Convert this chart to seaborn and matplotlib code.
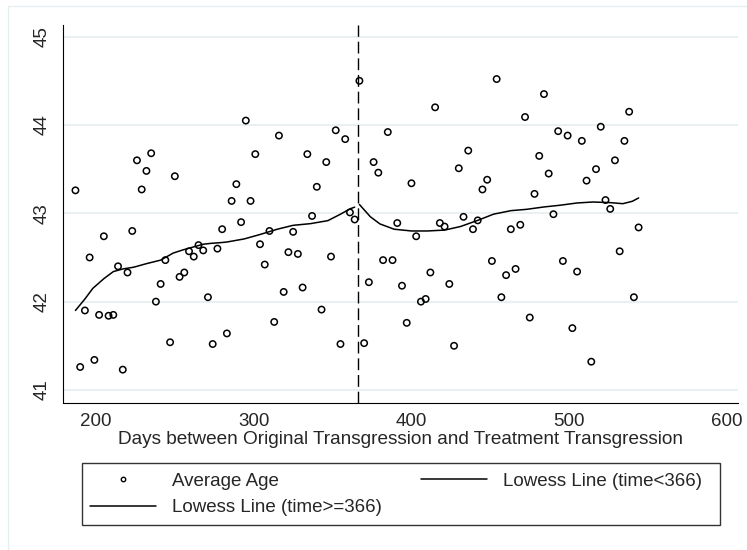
import matplotlib
matplotlib.use("Agg")
import matplotlib.pyplot as plt
from matplotlib.patches import Rectangle
from matplotlib.lines import Line2D
import seaborn as sns
import pandas as pd

# ---------------- data ----------------
days = [187, 190, 193, 196, 199, 202, 205, 208, 211, 214, 217, 220, 223, 226, 229,
        232, 235, 238, 241, 244, 247, 250, 253, 256, 259, 262, 265, 268, 271, 274,
        277, 280, 283, 286, 289, 292, 295, 298, 301, 304, 307, 310, 313, 316, 319,
        322, 325, 328, 331, 334, 337, 340, 343, 346, 349, 352, 355, 358, 361, 364,
        367, 370, 373, 376, 379, 382, 385, 388, 391, 394, 397, 400, 403, 406, 409,
        412, 415, 418, 421, 424, 427, 430, 433, 436, 439, 442, 445, 448, 451, 454,
        457, 460, 463, 466, 469, 472, 475, 478, 481, 484, 487, 490, 493, 496, 499,
        502, 505, 508, 511, 514, 517, 520, 523, 526, 529, 532, 535, 538, 541, 544]
avg_age = [43.26, 41.26, 41.90, 42.50, 41.34, 41.85, 42.74, 41.84, 41.85, 42.40,
           41.23, 42.33, 42.80, 43.60, 43.27, 43.48, 43.68, 42.00, 42.20, 42.47,
           41.54, 43.42, 42.28, 42.33, 42.57, 42.51, 42.64, 42.58, 42.05, 41.52,
           42.60, 42.82, 41.64, 43.14, 43.33, 42.90, 44.05, 43.14, 43.67, 42.65,
           42.42, 42.80, 41.77, 43.88, 42.11, 42.56, 42.79, 42.54, 42.16, 43.67,
           42.97, 43.30, 41.91, 43.58, 42.51, 43.94, 41.52, 43.84, 43.01, 42.93,
           44.50, 41.53, 42.22, 43.58, 43.46, 42.47, 43.92, 42.47, 42.89, 42.18,
           41.76, 43.34, 42.74, 42.00, 42.03, 42.33, 44.20, 42.89, 42.85, 42.20,
           41.50, 43.51, 42.96, 43.71, 42.82, 42.92, 43.27, 43.38, 42.46, 44.52,
           42.05, 42.30, 42.82, 42.37, 42.87, 44.09, 41.82, 43.22, 43.65, 44.35,
           43.45, 42.99, 43.93, 42.46, 43.88, 41.70, 42.34, 43.82, 43.37, 41.32,
           43.50, 43.98, 43.15, 43.05, 43.60, 42.57, 43.82, 44.15, 42.05, 42.84]

# lowess curves
lowess_lo_x = [187, 193, 198, 205, 211, 217, 224, 232, 241, 249, 255, 262, 268,
               273, 279, 283, 294, 304, 315, 325, 336, 347, 355, 361, 364]
lowess_lo_y = [41.90, 42.03, 42.15, 42.26, 42.34, 42.37, 42.39, 42.43, 42.47, 42.55,
               42.585, 42.62, 42.65, 42.66, 42.668, 42.675, 42.71, 42.76, 42.82,
               42.864, 42.883, 42.917, 42.99, 43.05, 43.07]
lowess_hi_x = [367, 374, 380, 389, 400, 410, 421, 431, 442, 452, 463, 473, 484,
               494, 505, 515, 526, 534, 540, 544]
lowess_hi_y = [43.10, 42.96, 42.88, 42.82, 42.80, 42.80, 42.81, 42.85, 42.92, 42.99,
               43.03, 43.045, 43.072, 43.091, 43.117, 43.128, 43.121, 43.109, 43.136,
               43.174]

cutoff = 366
x_ticks = [200, 300, 400, 500, 600]
y_ticks = [41, 42, 43, 44, 45]
x_title = "Days between Original Transgression and Treatment Transgression"
legend_labels = ["Average Age", "Lowess Line (time<366)", "Lowess Line (time>=366)"]

# ---------------- figure ----------------
sns.set_style("white")
plt.rcParams["font.family"] = ["Liberation Sans", "DejaVu Sans"]
FS = 13.5

W, H = 747, 550
fig = plt.figure(figsize=(W / 100, H / 100), dpi=100)
fig.patch.set_facecolor("white")

# outer light border of the graph region
fig.patches.append(Rectangle((8.3 / W, -0.05), 1.2, (H - 6) / H + 0.05,
                             transform=fig.transFigure, fill=False,
                             edgecolor="#e6eef0", lw=1.0, zorder=0))

ax_l, ax_r, ax_t, ax_b = 63.3, 738.0, 25.0, 402.5
ax = fig.add_axes([ax_l / W, 1 - ax_b / H, (ax_r - ax_l) / W, (ax_b - ax_t) / H])

df = pd.DataFrame({"days": days, "age": avg_age})
lo = pd.DataFrame({"x": lowess_lo_x, "y": lowess_lo_y})
hi = pd.DataFrame({"x": lowess_hi_x, "y": lowess_hi_y})

sns.scatterplot(data=df, x="days", y="age", ax=ax, marker="o", s=21,
                facecolor="none", edgecolor="black", linewidth=1.1, zorder=3)
sns.lineplot(data=lo, x="x", y="y", ax=ax, color="black", lw=1.1,
             estimator=None, sort=False, zorder=4)
sns.lineplot(data=hi, x="x", y="y", ax=ax, color="black", lw=1.1,
             estimator=None, sort=False, zorder=4)
ax.axvline(cutoff, color="black", lw=1.0, dashes=(8.5, 3.5), zorder=2)

ax.set_xlim(179.3, 607)
ax.set_ylim(40.858, 45.132)
ax.set_xticks(x_ticks)
ax.set_xticklabels([str(t) for t in x_ticks], fontsize=FS)
ax.set_yticks(y_ticks)
ax.set_yticklabels([str(t) for t in y_ticks], fontsize=FS, rotation=90,
                   va="center", ha="right")
ax.tick_params(axis="x", length=4.2, width=0.8, color="black", pad=3.0)
ax.tick_params(axis="y", length=5.0, width=0.8, color="black", pad=4.0)

ax.yaxis.grid(True, color="#e8eff1", lw=1.3)
ax.xaxis.grid(False)
ax.set_axisbelow(True)
for side in ["top", "right"]:
    ax.spines[side].set_visible(False)
for side in ["left", "bottom"]:
    ax.spines[side].set_color("black")
    ax.spines[side].set_linewidth(0.8)

ax.set_ylabel("")
ax.set_xlabel(x_title, fontsize=FS + 0.2)
ax.xaxis.set_label_coords(0.5, -(431 - ax_b) / (ax_b - ax_t))
ax.xaxis.label.set_va("top")

# ---------------- legend ----------------
h_pt = Line2D([], [], ls="none", marker="o", markersize=3.2, mfc="none",
              mec="black", mew=1.0)
h_lo = Line2D([], [], color="black", lw=1.1)
h_hi = Line2D([], [], color="black", lw=1.1)
HL = 66.0 / (FS * 100 / 72)
HTP = 16.5 / (FS * 100 / 72)
items = [(h_pt, legend_labels[0], 90.0, 481.0),
         (h_lo, legend_labels[1], 420.5, 481.0),
         (h_hi, legend_labels[2], 90.0, 507.7)]
for h, lab, xp, yp in items:
    fig.legend([h], [lab], loc="center left", bbox_to_anchor=(xp / W, 1 - yp / H),
               frameon=False, fontsize=FS, borderpad=0, borderaxespad=0,
               handlelength=HL, handletextpad=HTP)
fig.patches.append(Rectangle((81.7 / W, 1 - 525 / H), (720 - 81.7) / W,
                             (525 - 463.3) / H, transform=fig.transFigure,
                             fill=False, edgecolor="#333333", lw=1.0, zorder=5))

fig.savefig("out.png", dpi=100, facecolor="white")
